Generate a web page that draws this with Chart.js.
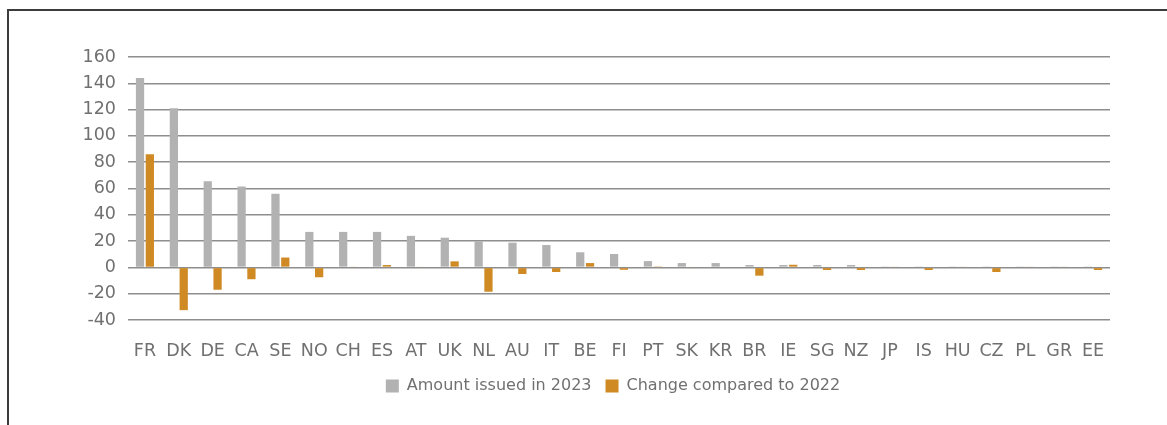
<!DOCTYPE html>
<html>
<head>
<meta charset="utf-8">
<script src="https://cdn.jsdelivr.net/npm/chart.js@4/dist/chart.umd.min.js"></script>
<style>
  html, body { margin: 0; padding: 0; background: #fff; }
  #wrap { position: relative; width: 1167px; height: 425px; }
  #frame { position: absolute; left: 7px; top: 9px; right: 0; bottom: 0;
           border-top: 2px solid #3c3c3c; border-left: 2px solid #3c3c3c; }
  canvas { position: absolute; left: 0; top: 0; }
</style>
</head>
<body>
<div id="wrap">
  <div id="frame"></div>
  <canvas id="myChart" width="1167" height="425"></canvas>
</div>
<script>
// country codes along the x axis
const countries = ['FR', 'DK', 'DE', 'CA', 'SE', 'NO', 'CH', 'ES', 'AT', 'UK',
  'NL', 'AU', 'IT', 'BE', 'FI', 'PT', 'SK', 'KR', 'BR', 'IE',
  'SG', 'NZ', 'JP', 'IS', 'HU', 'CZ', 'PL', 'GR', 'EE'];

// amount issued in 2023
const issued2023 = [144, 121, 65.5, 61.5, 56, 27, 27, 27, 24, 22.6,
  19.8, 18.8, 17, 11.5, 10.2, 4.8, 3.3, 3.3, 1.8, 1.8,
  1.8, 1.8, 0.4, 0.4, 0.4, 0.4, 0.4, 0.4, 0.4];

// change compared to 2022
const change2022 = [86, -32.5, -17, -9, 7.5, -7.5, 0.5, 1.8, 0.6, 4.6,
  -18.5, -5, -3.5, 3.3, -1.8, 0.8, -0.6, -0.6, -6.3, 2,
  -2, -2, 0.5, -2, 0.5, -3.5, 0.5, 0.5, -2];

const yTicks = { min: -40, max: 160, step: 20 };

const textColor = '#707070';
const gridColor = '#8e8e8e';
const font = 'DejaVu Sans';

// nudge the legend a little left, like the original
const legendShift = {
  id: 'legendShift',
  afterLayout(chart) {
    chart.legend.left -= 6;
    chart.legend.right -= 6;
  }
};

const ctx = document.getElementById('myChart').getContext('2d');

const myChart = new Chart(ctx, {
  type: 'bar',
  data: {
    labels: countries,
    datasets: [{
      label: 'Amount issued in 2023',
      data: issued2023,
      backgroundColor: '#b2b2b2',
      categoryPercentage: 0.58,
      barPercentage: 0.84
    }, {
      label: 'Change compared to 2022',
      data: change2022,
      backgroundColor: '#cf8a24',
      categoryPercentage: 0.58,
      barPercentage: 0.84
    }]
  },
  plugins: [legendShift],
  options: {
    responsive: false,
    animation: false,
    layout: {
      padding: { top: 57, right: 57, bottom: 21, left: 0 }
    },
    plugins: {
      tooltip: { enabled: false },
      legend: {
        position: 'bottom',
        fullSize: false, // centre the legend under the plot, not the canvas
        labels: {
          color: textColor,
          font: { family: font, size: 16 },
          boxWidth: 13,
          boxHeight: 13,
          padding: 14
        }
      }
    },
    scales: {
      x: {
        afterFit: (scale) => { scale.height = 44; },
        grid: { display: false, drawTicks: false },
        border: { display: false },
        ticks: {
          color: textColor,
          font: { family: font, size: 17.5 },
          padding: 20.5,
          maxRotation: 0,
          autoSkip: false
        }
      },
      y: {
        min: yTicks.min,
        max: yTicks.max,
        afterFit: (scale) => { scale.width = 128; },
        grid: { color: gridColor, lineWidth: 1.5, drawTicks: false },
        border: { display: false },
        ticks: {
          stepSize: yTicks.step,
          color: textColor,
          font: { family: font, size: 17.5 },
          padding: 12
        }
      }
    }
  }
});
</script>
</body>
</html>
